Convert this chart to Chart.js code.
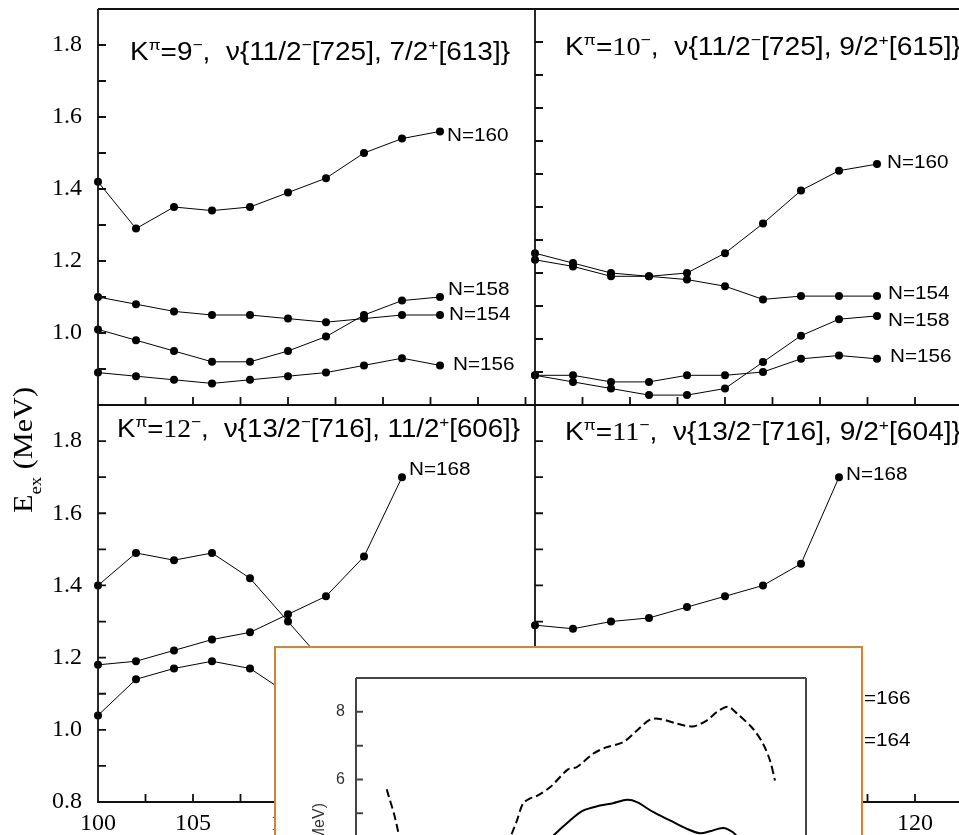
<!DOCTYPE html>
<html>
<head>
<meta charset="utf-8">
<script src="https://cdn.jsdelivr.net/npm/chart.js@4.4.0/dist/chart.umd.min.js"></script>
<style>
  html, body { margin: 0; padding: 0; background: #fff; }
  #page { position: relative; width: 959px; height: 835px; overflow: hidden; background: #fff; }
  #page canvas.panel { position: absolute; left: 0; top: 0; }
  #inset { position: absolute; left: 274px; top: 646px; width: 585px; height: 220px;
           border: 2px solid #d4852f; background: #fff; overflow: hidden; }
  #inset canvas { position: absolute; left: 0; top: 0; }
</style>
</head>
<body>
<div id="page">
  <canvas class="panel" id="k9" width="1000" height="835"></canvas>
  <canvas class="panel" id="k10" width="1000" height="835"></canvas>
  <canvas class="panel" id="k12" width="1000" height="835"></canvas>
  <canvas class="panel" id="k11" width="1000" height="835"></canvas>
  <div id="inset"><canvas id="insetChart" width="585" height="300"></canvas></div>
</div>
<script>
// proton number Z on the x axis
const zTop = [100, 102, 104, 106, 108, 110, 112, 114, 116, 118];
const zBottom = [100, 102, 104, 106, 108, 110, 112, 114, 116];

// K=9-  nu{11/2-[725], 7/2+[613]}
const k9_n160 = [1.42, 1.29, 1.35, 1.34, 1.35, 1.39, 1.43, 1.50, 1.54, 1.56];
const k9_n158 = [1.01, 0.98, 0.95, 0.92, 0.92, 0.95, 0.99, 1.05, 1.09, 1.10];
const k9_n154 = [1.10, 1.08, 1.06, 1.05, 1.05, 1.04, 1.03, 1.04, 1.05, 1.05];
const k9_n156 = [0.89, 0.88, 0.87, 0.86, 0.87, 0.88, 0.89, 0.91, 0.93, 0.91];

// K=10-  nu{11/2-[725], 9/2+[615]}  (own y scale 0.8 - 2.0)
const k10_n160 = [1.26, 1.23, 1.20, 1.19, 1.20, 1.26, 1.35, 1.45, 1.51, 1.53];
const k10_n154 = [1.24, 1.22, 1.19, 1.19, 1.18, 1.16, 1.12, 1.13, 1.13, 1.13];
const k10_n158 = [0.89, 0.87, 0.85, 0.83, 0.83, 0.85, 0.93, 1.01, 1.06, 1.07];
const k10_n156 = [0.89, 0.89, 0.87, 0.87, 0.89, 0.89, 0.90, 0.94, 0.95, 0.94];

// K=12-  nu{13/2-[716], 11/2+[606]}
const k12_n168 = [1.18, 1.19, 1.22, 1.25, 1.27, 1.32, 1.37, 1.48, 1.70];
const k12_upper = [1.40, 1.49, 1.47, 1.49, 1.42, 1.30, 1.18];
const k12_lower = [1.04, 1.14, 1.17, 1.19, 1.17, 1.10];

// K=11-  nu{13/2-[716], 9/2+[604]}
const k11_n168 = [1.29, 1.28, 1.30, 1.31, 1.34, 1.37, 1.40, 1.46, 1.70];
const k11_n166 = [1.08];
const k11_n164 = [0.97];

// pasted inset (MeV)
const insetLeftX = [3.07, 3.4, 3.8, 4.23, 4.5];
const insetLeftY = [5.71, 5.38, 4.99, 4.44, 4.05];
const insetDashX = [15.2, 15.6, 16.1, 16.7, 17.4, 18.0, 19.4, 21.2, 22.1, 23.7, 25.0, 26.7, 28.1,
                    29.4, 30.4, 32.1, 33.7, 35.1, 36.1, 37.2, 38.1, 39.7, 40.7, 41.4, 41.9];
const insetDashY = [4.04, 4.41, 4.79, 5.29, 5.44, 5.50, 5.77, 6.30, 6.37, 6.76, 6.95, 7.10, 7.45,
                    7.77, 7.79, 7.65, 7.57, 7.75, 8.00, 8.15, 7.95, 7.50, 7.06, 6.56, 5.97];
const insetSolidX = [19.4, 19.7, 21.4, 22.7, 24.4, 25.7, 27.1, 28.1, 29.7, 31.4, 33.1, 34.4, 35.4, 36.7, 37.7, 38.4];
const insetSolidY = [4.20, 4.33, 4.79, 5.08, 5.23, 5.30, 5.40, 5.33, 5.04, 4.79, 4.54, 4.41, 4.47, 4.57, 4.44, 4.20];

const SERIF = 'Liberation Serif';
const SANS = 'Liberation Sans';

// text with sub/superscripts, optionally stretched to a width
function drawRich(ctx, segs, o) {
  const parts = segs.map(s => {
    const small = s.sup || s.sub;
    const sz = small ? o.size * 0.62 : o.size;
    const font = sz + 'px "' + (s.serif ? SERIF : o.family) + '"';
    ctx.font = font;
    const dy = s.sup ? -o.size * 0.42 : (s.sub ? o.size * 0.35 : 0);
    return { t: s.t, font, dy, w: ctx.measureText(s.t).width };
  });
  const total = parts.reduce((a, p) => a + p.w, 0);
  const k = o.width ? o.width / total : 1;
  ctx.save();
  ctx.translate(o.x, o.y);
  if (o.rotate) ctx.rotate(o.rotate);
  ctx.scale(k, 1);
  ctx.fillStyle = '#000';
  ctx.textBaseline = 'alphabetic';
  let cx = o.align === 'center' ? -total / 2 : 0;
  parts.forEach(p => { ctx.font = p.font; ctx.fillText(p.t, cx, p.dy); cx += p.w; });
  ctx.restore();
}

const framePlugin = {
  id: 'frame',
  afterDatasetsDraw(chart, args, o) {
    const { ctx, chartArea: a, scales: { x, y } } = chart;
    ctx.save();
    ctx.strokeStyle = o.color;
    ctx.lineWidth = o.width;
    ctx.beginPath();
    ctx.moveTo(a.left, a.top);
    ctx.lineTo(a.left, a.bottom);
    ctx.lineTo(a.right, a.bottom);
    if (o.top) { ctx.moveTo(a.left, a.top); ctx.lineTo(a.right, a.top); }
    if (o.right) { ctx.moveTo(a.right, a.top); ctx.lineTo(a.right, a.bottom); }
    if (o.xTicks) {
      x.ticks.forEach(t => {
        const px = x.getPixelForValue(t.value);
        ctx.moveTo(px, a.bottom);
        ctx.lineTo(px, a.bottom - o.tick);
      });
    }
    y.ticks.forEach(t => {
      const py = y.getPixelForValue(t.value);
      ctx.moveTo(a.left, py);
      ctx.lineTo(a.left + o.tick, py);
    });
    ctx.stroke();
    ctx.restore();
  }
};

const endLabelPlugin = {
  id: 'endLabels',
  afterDatasetsDraw(chart) {
    const ctx = chart.ctx;
    chart.data.datasets.forEach((ds, i) => {
      if (!ds.endLabel) return;
      const pts = chart.getDatasetMeta(i).data;
      const p = pts[pts.length - 1];
      ctx.save();
      ctx.font = '18px "' + SANS + '"';
      ctx.textBaseline = 'middle';
      ctx.fillStyle = '#000';
      ctx.translate(p.x + ds.endLabel[0], p.y + ds.endLabel[1]);
      ctx.scale(1.15, 1);
      ctx.fillText(ds.label, 0, 0);
      ctx.restore();
    });
  }
};

const titlePlugin = {
  id: 'panelTitle',
  afterDraw(chart, args, o) {
    if (!o.segs) return;
    const a = chart.chartArea;
    drawRich(chart.ctx, o.segs, { x: a.left + o.dx, y: a.top + o.dy, size: 25, family: SANS, width: o.width });
    if (o.yTitle) {
      drawRich(chart.ctx, [{ t: 'E' }, { t: 'ex', sub: true }, { t: ' (MeV)' }],
        { x: 32, y: 450, size: 27, family: SERIF, width: 126, align: 'center', rotate: -Math.PI / 2 });
    }
  }
};

function series(label, xs, ys, labelOffset) {
  return {
    label,
    data: ys.map((v, i) => ({ x: xs[i], y: v })),
    endLabel: labelOffset,
    borderColor: '#000',
    borderWidth: 1,
    backgroundColor: '#000',
    pointRadius: 4,
    pointBorderWidth: 0,
    clip: false
  };
}

function kTitle(k, kSerif, a, b, c, d) {
  return [
    { t: 'K' }, { t: 'π', sup: true }, { t: '=' }, { t: k, serif: kSerif }, { t: '−', sup: true },
    { t: ',  ν{' + a }, { t: '−', sup: true }, { t: b + ', ' + c }, { t: '+', sup: true }, { t: d + '}' }
  ];
}

// area = plot rectangle on the page: [left, top, right, bottom]
function panel(id, area, yMax, xLabels, yLabels, skipLow, datasets, title) {
  const yW = yLabels ? 90 : 0;
  const xH = xLabels ? 33 : 0;
  const pad = { left: area[0] - yW, top: area[1], right: 1000 - area[2], bottom: 835 - area[3] - xH };
  return new Chart(document.getElementById(id), {
    type: 'line',
    data: { datasets },
    options: {
      responsive: false,
      animation: false,
      devicePixelRatio: 1,
      layout: { padding: pad },
      scales: {
        x: {
          type: 'linear', min: 100, max: 123,
          afterFit: s => { s.height = xH; s.paddingLeft = 0; s.paddingRight = 0; },
          grid: { display: false, drawTicks: false },
          border: { display: false },
          ticks: {
            display: xLabels, stepSize: 2.5, autoSkip: false, includeBounds: false, maxRotation: 0,
            padding: 7, color: '#000', font: { family: SERIF, size: 24 },
            callback: v => (v % 5 === 0 ? String(v) : '')
          }
        },
        y: {
          min: 0.8, max: yMax,
          afterFit: s => { s.width = yW; s.paddingTop = 0; s.paddingBottom = 0; },
          grid: { display: false, drawTicks: false },
          border: { display: false },
          ticks: {
            display: yLabels, stepSize: 0.1, autoSkip: false, includeBounds: false,
            padding: 16, color: '#000', font: { family: SERIF, size: 24 },
            callback: v => {
              const t = Math.round(v * 10);
              if (t % 2 !== 0 || (skipLow && t === 8)) return '';
              return v.toFixed(1);
            }
          }
        }
      },
      plugins: {
        legend: { display: false },
        tooltip: { enabled: false },
        frame: { color: '#111', width: 1.8, tick: 8, top: area[1] < 100, xTicks: true },
        panelTitle: title
      }
    },
    plugins: [framePlugin, endLabelPlugin, titlePlugin]
  });
}

panel('k9', [98, 9, 535, 405], 1.9, false, true, true, [
  series('N=160', zTop, k9_n160, [7, 5]),
  series('N=158', zTop, k9_n158, [8, -7]),
  series('N=154', zTop, k9_n154, [9, 0]),
  series('N=156', zTop, k9_n156, [13, 0])
], { segs: kTitle('9', false, '11/2', '[725]', '7/2', '[613]'), dx: 32, dy: 51, width: 380 });

panel('k10', [535, 9, 972, 405], 2.0, false, false, false, [
  series('N=160', zTop, k10_n160, [10, -1]),
  series('N=154', zTop, k10_n154, [11, -2]),
  series('N=158', zTop, k10_n158, [11, 5]),
  series('N=156', zTop, k10_n156, [13, -2])
], { segs: kTitle('10', true, '11/2', '[725]', '9/2', '[615]'), dx: 30, dy: 46, width: 396 });

panel('k12', [98, 405, 535, 802], 1.9, true, true, false, [
  series('N=168', zBottom, k12_n168, [7, -7]),
  series('', zBottom, k12_upper, null),
  series('', zBottom, k12_lower, null)
], { segs: kTitle('12', true, '13/2', '[716]', '11/2', '[606]'), dx: 19, dy: 32, width: 403, yTitle: true });

panel('k11', [535, 405, 972, 802], 1.9, true, false, false, [
  series('N=168', zBottom, k11_n168, [7, -2]),
  series('N=166', [116], k11_n166, [10, -2]),
  series('N=164', [116], k11_n164, [10, 0])
], { segs: kTitle('11', true, '13/2', '[716]', '9/2', '[604]'), dx: 30, dy: 35, width: 396 });

// inset plot pasted over the lower panels
const insetTitlePlugin = {
  id: 'insetTitle',
  afterDraw(chart) {
    const ctx = chart.ctx;
    ctx.save();
    ctx.translate(chart.chartArea.left - 36, 155);
    ctx.rotate(-Math.PI / 2);
    ctx.font = '16px "' + SANS + '"';
    ctx.fillStyle = '#333';
    ctx.textAlign = 'right';
    ctx.textBaseline = 'middle';
    ctx.fillText('(MeV)', 0, 0);
    ctx.restore();
  }
};

function curve(xs, ys, dash) {
  return {
    data: ys.map((v, i) => ({ x: xs[i], y: v })),
    borderColor: '#000',
    borderWidth: 2,
    borderDash: dash,
    pointRadius: 0,
    tension: 0.3,
    clip: false
  };
}

new Chart(document.getElementById('insetChart'), {
  type: 'line',
  data: {
    datasets: [
      curve(insetLeftX, insetLeftY, [8, 4]),
      curve(insetDashX, insetDashY, [8, 4]),
      curve(insetSolidX, insetSolidY, [])
    ]
  },
  options: {
    responsive: false,
    animation: false,
    devicePixelRatio: 1,
    layout: { padding: { left: 0, top: 30, right: 55, bottom: 67 } },
    scales: {
      x: { type: 'linear', min: 0, max: 45, display: false },
      y: {
        min: 3, max: 9,
        afterFit: s => { s.width = 80; s.paddingTop = 0; s.paddingBottom = 0; },
        grid: { display: false, drawTicks: false },
        border: { display: false },
        ticks: {
          stepSize: 1, autoSkip: false, padding: 11, color: '#333',
          font: { family: SANS, size: 16 },
          callback: v => (v % 2 === 0 && v < 9 ? String(v) : '')
        }
      }
    },
    plugins: {
      legend: { display: false },
      tooltip: { enabled: false },
      frame: { color: '#444', width: 2, tick: 7, top: true, right: true, xTicks: false }
    }
  },
  plugins: [framePlugin, insetTitlePlugin]
});
</script>
</body>
</html>
